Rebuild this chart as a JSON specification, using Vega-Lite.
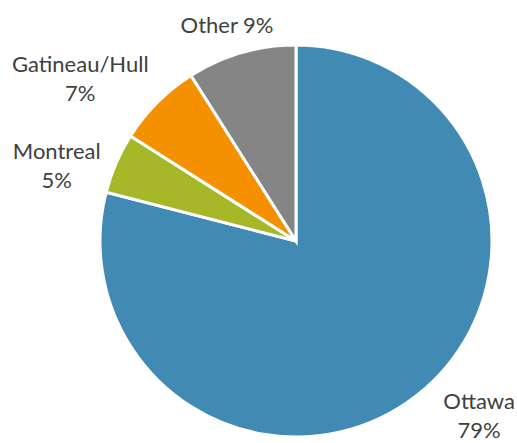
{
  "$schema": "https://vega.github.io/schema/vega-lite/v6.json",
  "width": 392,
  "height": 392,
  "autosize": {"type": "none"},
  "padding": {"left": 100, "top": 45, "right": 25, "bottom": 6},
  "background": "white",
  "config": {"view": {"stroke": null}},
  "data": {
    "values": [
      {"city": "Ottawa", "share": 79, "rank": 1, "label": "Ottawa\n79%"},
      {"city": "Montreal", "share": 5, "rank": 2, "label": "Montreal\n5%"},
      {"city": "Gatineau/Hull", "share": 7, "rank": 3, "label": "Gatineau/Hull\n7%"},
      {"city": "Other", "share": 9, "rank": 4, "label": "Other 9%"}
    ]
  },
  "encoding": {
    "theta": {"field": "share", "type": "quantitative", "stack": true},
    "order": {"field": "rank", "type": "quantitative"}
  },
  "layer": [
    {
      "mark": {"type": "arc", "outerRadius": 196, "stroke": "white", "strokeWidth": 3},
      "encoding": {
        "color": {
          "field": "city",
          "type": "nominal",
          "scale": {
            "domain": ["Ottawa", "Montreal", "Gatineau/Hull", "Other"],
            "range": ["#418AB4", "#A6B827", "#F59100", "#858585"]
          },
          "legend": null
        }
      }
    },
    {
      "mark": {
        "type": "text",
        "radius": 240,
        "font": "Lato",
        "fontSize": 22,
        "color": "#404040",
        "lineBreak": "\n",
        "lineHeight": 29,
        "align": "center",
        "baseline": "middle",
        "dx": {"expr": "datum.city === 'Other' ? -2 : datum.city === 'Gatineau/Hull' ? -46 : datum.city === 'Montreal' ? -19 : 36"},
        "dy": {"expr": "datum.city === 'Other' ? 15 : datum.city === 'Gatineau/Hull' ? -6 : datum.city === 'Montreal' ? 6 : -29"}
      },
      "encoding": {
        "text": {"field": "label"}
      }
    }
  ]
}
